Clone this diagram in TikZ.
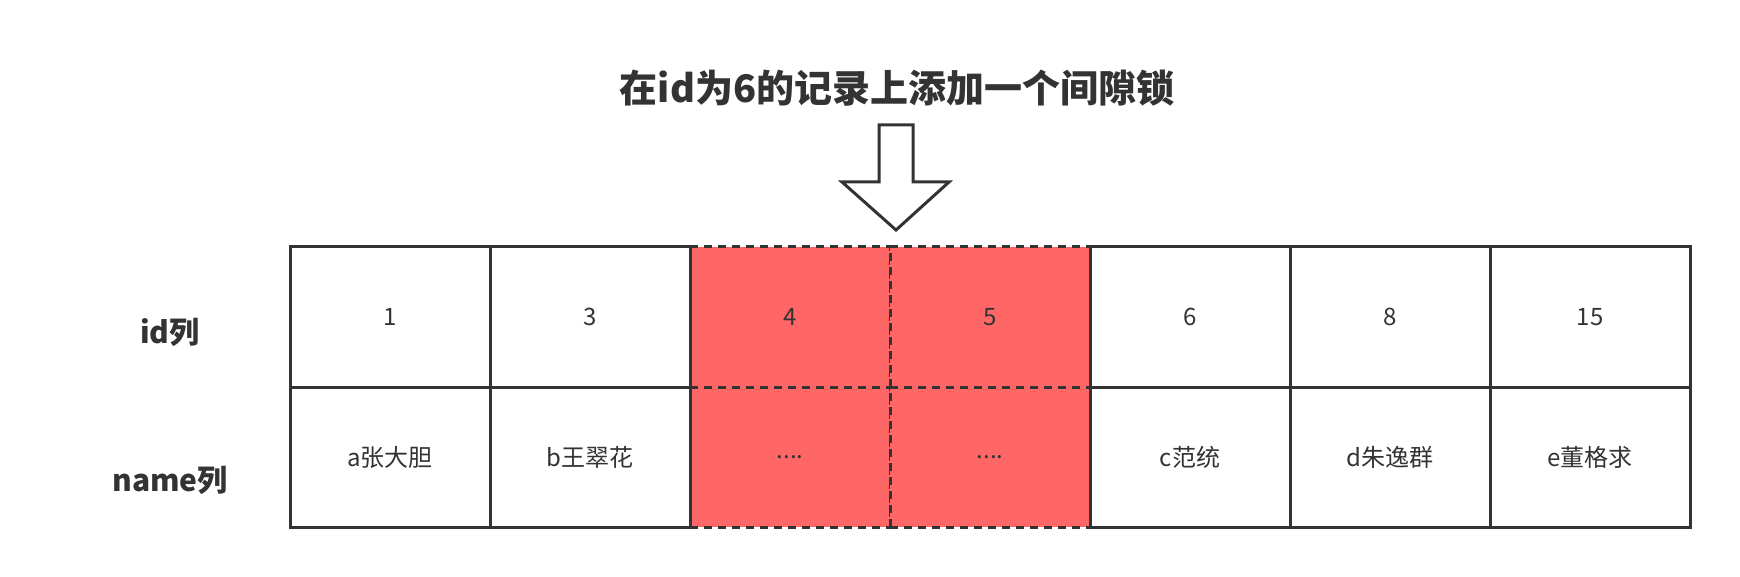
\documentclass[tikz,border=0pt]{standalone}
\usepackage{fontspec}
\newfontfamily\cjk{Noto Sans CJK SC}
\usepackage{tikz}
\usetikzlibrary{positioning}
\definecolor{ink}{HTML}{333333}
\definecolor{lockred}{HTML}{FF6666}

\begin{document}
\begin{tikzpicture}[x=0.5pt,y=-0.5pt,line width=1.5pt,
		every node/.style={text=ink,font=\cjk\fontsize{12}{14}\selectfont},
		cell/.style={rectangle,draw=ink,fill=white,minimum width=100pt,minimum height=70pt,inner sep=0pt},
		lockcell/.style={cell,fill=lockred,dash pattern=on 4pt off 3pt},
		rowlabel/.style={font=\cjk\bfseries\fontsize{15}{18}\selectfont}]
		\useasboundingbox (0,0) rectangle (1740,577);
		\node (title) [font=\cjk\bfseries\fontsize{19}{23}\selectfont] at (897,88) {在id为6的记录上添加一个间隙锁};
		\draw [draw=ink,fill=white,line join=miter] (879,125) -- (913,125) -- (913,182) -- (949,182) -- (896,230) -- (842,182) -- (879,182) -- cycle;
		% gap cells first, so the solid borders lie on top
		\node (id3) [lockcell] at (790,317) {4};
		\node (id4) [lockcell] at (990,317) {5};
		\node (nm3) [lockcell] at (790,457) {....};
		\node (nm4) [lockcell] at (990,457) {....};
		\node (id1) [cell] at (390,317) {1};
		\node (id2) [cell] at (590,317) {3};
		\node (id5) [cell] at (1190,317) {6};
		\node (id6) [cell] at (1390,317) {8};
		\node (id7) [cell] at (1590,317) {15};
		\node (nm1) [cell] at (390,457) {a张大胆};
		\node (nm2) [cell] at (590,457) {b王翠花};
		\node (nm5) [cell] at (1190,457) {c范统};
		\node (nm6) [cell] at (1390,457) {d朱逸群};
		\node (nm7) [cell] at (1590,457) {e董格求};
		\node (idlabel) [rowlabel] at (170,332) {id列};
		\node (nmlabel) [rowlabel] at (170,480) {name列};
		\end{tikzpicture}
\end{document}
